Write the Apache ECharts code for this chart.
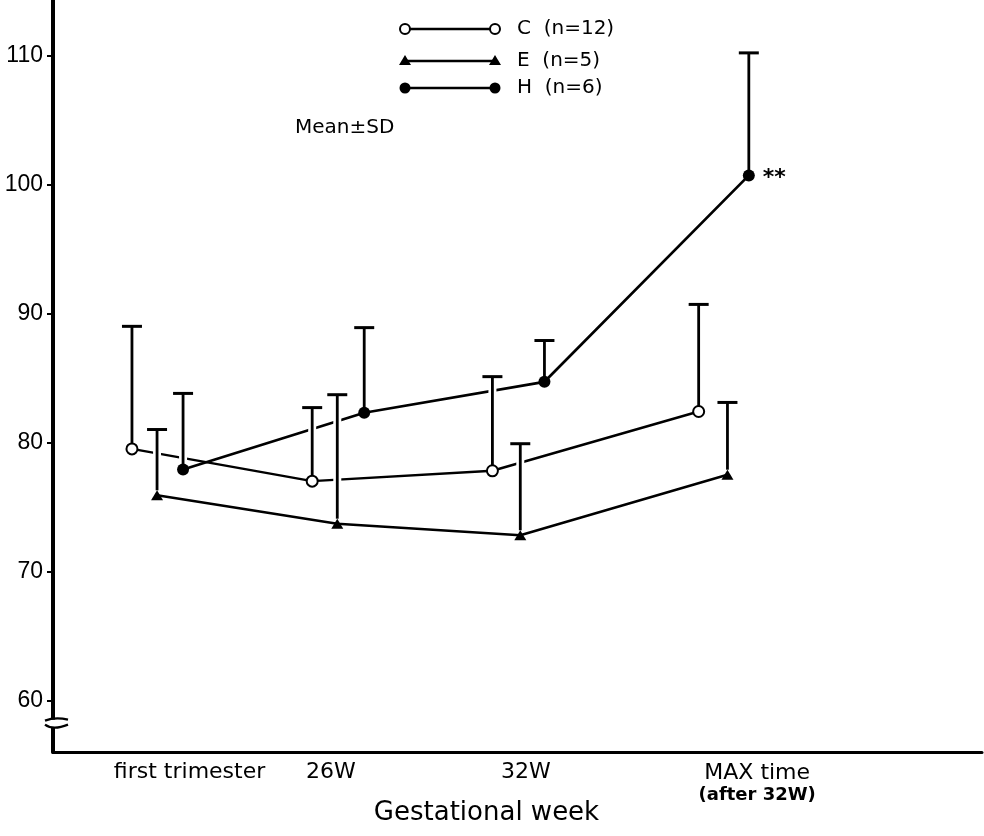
<!DOCTYPE html>
<html>
<head>
<meta charset="utf-8">
<script src="https://cdn.jsdelivr.net/npm/echarts@6/dist/echarts.min.js"></script>
<style>
html,body{margin:0;padding:0;background:#fff;}
#chart{width:984px;height:836px;}
</style>
</head>
<body>
<div id="chart"></div>
<script>
// ---- data ----
const categories = ['first trimester', '26W', '32W', 'MAX time\n(after 32W)'];
const labelX = [14.7, 29.9, 50.9, 75.8];          // x position of each category label
const yTicks = [60, 70, 80, 90, 100, 110];

// group C (n=12)
const cX    = [8.5, 27.9, 47.3, 69.5];
const cMean = [79.5, 77.0, 77.8, 82.4];
const cSD   = [9.5, 5.7, 7.3, 8.3];
// group E (n=5)
const eX    = [11.2, 30.6, 50.3, 72.6];
const eMean = [75.9, 73.7, 72.8, 77.5];
const eSD   = [5.1, 10.0, 7.1, 5.6];
// group H (n=6)
const hX    = [14.0, 33.5, 52.9, 74.9];
const hMean = [77.9, 82.3, 84.7, 100.7];
const hSD   = [5.9, 6.6, 3.2, 9.5];
const hSig  = ['', '', '', '**'];

const seriesNames = ['C  (n=12)', 'E  (n=5)', 'H  (n=6)'];

// ---- build ----
const FONT = '"DejaVu Sans", "Noto Sans", sans-serif';
const NUMFONT = '"Liberation Sans Narrow", "Liberation Sans", Roboto, sans-serif';

function pts(xs, ms) { return xs.map((x, i) => [x, ms[i]]); }
const errData = [];
[[cX, cMean, cSD], [eX, eMean, eSD], [hX, hMean, hSD]].forEach(([xs, ms, sds]) => {
  xs.forEach((x, i) => errData.push([x, ms[i], sds[i]]));
});

const hData = hX.map((x, i) => {
  const item = { value: [x, hMean[i]] };
  if (hSig[i]) {
    item.label = { show: true, formatter: hSig[i], position: 'right', distance: 8,
      color: '#000', fontSize: 22, fontWeight: 'bold', fontFamily: FONT, offset: [0, 3] };
  }
  return item;
});

const chart = echarts.init(document.getElementById('chart'));
const option = {
  backgroundColor: '#fff',
  animation: false,
  grid: { left: 53, right: 2, top: 0, bottom: 84, containLabel: false, outerBoundsMode: 'none' },
  xAxis: {
    type: 'value', min: 0, max: 100,
    name: 'Gestational week', nameLocation: 'middle', nameGap: 48, nameMoveOverlap: false,
    nameTextStyle: { color: '#000', fontSize: 26, fontFamily: FONT, padding: [0, 62, 0, 0] },
    axisLine: { show: true, lineStyle: { color: '#000', width: 3 } },
    axisTick: { show: false },
    splitLine: { show: false },
    axisLabel: {
      customValues: labelX,
      margin: 9,
      color: '#000', fontSize: 22, fontFamily: FONT, lineHeight: 22,
      formatter: function (v) {
        let best = 0;
        labelX.forEach((lx, i) => { if (Math.abs(lx - v) < Math.abs(labelX[best] - v)) best = i; });
        const t = categories[best];
        if (t.indexOf('\n') >= 0) {
          const parts = t.split('\n');
          return '{a|' + parts[0] + '}\n{b|' + parts[1] + '}';
        }
        return t;
      },
      rich: {
        a: { fontSize: 22, fontFamily: FONT, color: '#000', lineHeight: 24 },
        b: { fontSize: 18, fontFamily: FONT, fontWeight: 'bold', color: '#000', lineHeight: 20 }
      }
    }
  },
  yAxis: {
    type: 'value', min: 56, max: 114.3,
    axisLine: { show: true, lineStyle: { color: '#000', width: 4 } },
    axisTick: { show: true, customValues: yTicks, length: 6, lineStyle: { color: '#000', width: 2 } },
    splitLine: { show: false },
    axisLabel: { customValues: yTicks, margin: 10, color: '#000', fontSize: 23, fontFamily: NUMFONT }
  },
  series: [
    {
      name: seriesNames[0], type: 'line', data: pts(cX, cMean), z: 2,
      symbol: 'emptyCircle', symbolSize: 11,
      itemStyle: { color: '#000', borderColor: '#000', borderWidth: 2 },
      lineStyle: { color: '#000', width: 2.5 }
    },
    {
      name: seriesNames[1], type: 'line', data: pts(eX, eMean), z: 2,
      symbol: 'triangle', symbolSize: [12, 10],
      itemStyle: { color: '#000' },
      lineStyle: { color: '#000', width: 2.5 }
    },
    {
      name: seriesNames[2], type: 'line', data: hData, z: 2,
      symbol: 'circle', symbolSize: 12,
      itemStyle: { color: '#000' },
      lineStyle: { color: '#000', width: 2.7 }
    },
    {
      name: 'SD', type: 'custom', z: 3,
      data: errData,
      encode: { x: 0, y: 1 },
      renderItem: function (params, api) {
        const x = api.value(0), m = api.value(1), sd = api.value(2);
        const p0 = api.coord([x, m]);
        const p1 = api.coord([x, m + sd]);
        return {
          type: 'group',
          children: [
            { type: 'line', shape: { x1: p0[0], y1: p0[1] - 8, x2: p0[0], y2: p1[1] + 3 },
              style: { stroke: '#fff', lineWidth: 8 } },
            { type: 'line', shape: { x1: p0[0], y1: p0[1] - 5, x2: p0[0], y2: p1[1] },
              style: { stroke: '#000', lineWidth: 2.8 } },
            { type: 'line', shape: { x1: p0[0] - 10, y1: p1[1], x2: p0[0] + 10, y2: p1[1] },
              style: { stroke: '#000', lineWidth: 3 } }
          ]
        };
      }
    }
  ]
};
chart.setOption(option);

// ---- legend, annotation, axis break (decoration) ----
function legendRow(y, kind, text) {
  const els = [];
  const x1 = 405, x2 = 495;
  els.push({ type: 'line', shape: { x1: x1, y1: y, x2: x2, y2: y }, style: { stroke: '#000', lineWidth: 2.4 } });
  [x1, x2].forEach(x => {
    if (kind === 'open') {
      els.push({ type: 'circle', shape: { cx: x, cy: y, r: 5 }, style: { fill: '#fff', stroke: '#000', lineWidth: 2 } });
    } else if (kind === 'fill') {
      els.push({ type: 'circle', shape: { cx: x, cy: y, r: 5.5 }, style: { fill: '#000' } });
    } else {
      els.push({ type: 'polygon', shape: { points: [[x, y - 6], [x - 6, y + 4], [x + 6, y + 4]] }, style: { fill: '#000' } });
    }
  });
  els.push({ type: 'text', x: 517, y: y, style: { text: text, fill: '#000', fontSize: 20, fontFamily: FONT, verticalAlign: 'middle' } });
  return els;
}
const yAxisX = chart.convertToPixel({ xAxisIndex: 0 }, 0);
const brkY = chart.convertToPixel({ yAxisIndex: 0 }, 58.2);
let graphics = []
  .concat(legendRow(29, 'open', seriesNames[0]))
  .concat(legendRow(61, 'tri', seriesNames[1]))
  .concat(legendRow(88, 'fill', seriesNames[2]));
graphics.push({ type: 'text', x: 295, y: 128, style: { text: 'Mean±SD', fill: '#000', fontSize: 20, fontFamily: FONT, verticalAlign: 'middle' } });
// axis break mark
graphics.push({ type: 'rect', shape: { x: yAxisX - 4, y: brkY - 4, width: 8, height: 8 }, style: { fill: '#fff' }, z: 10 });
graphics.push({ type: 'bezierCurve', shape: { x1: yAxisX - 8, y1: brkY - 3, cpx1: yAxisX + 2, cpy1: brkY - 7, x2: yAxisX + 15, y2: brkY - 4 },
  style: { stroke: '#000', lineWidth: 2.2, fill: null }, z: 11 });
graphics.push({ type: 'bezierCurve', shape: { x1: yAxisX - 8, y1: brkY + 1, cpx1: yAxisX, cpy1: brkY + 7, x2: yAxisX + 15, y2: brkY + 1 },
  style: { stroke: '#000', lineWidth: 2.2, fill: null }, z: 11 });
chart.setOption({ graphic: graphics });
</script>
</body>
</html>
